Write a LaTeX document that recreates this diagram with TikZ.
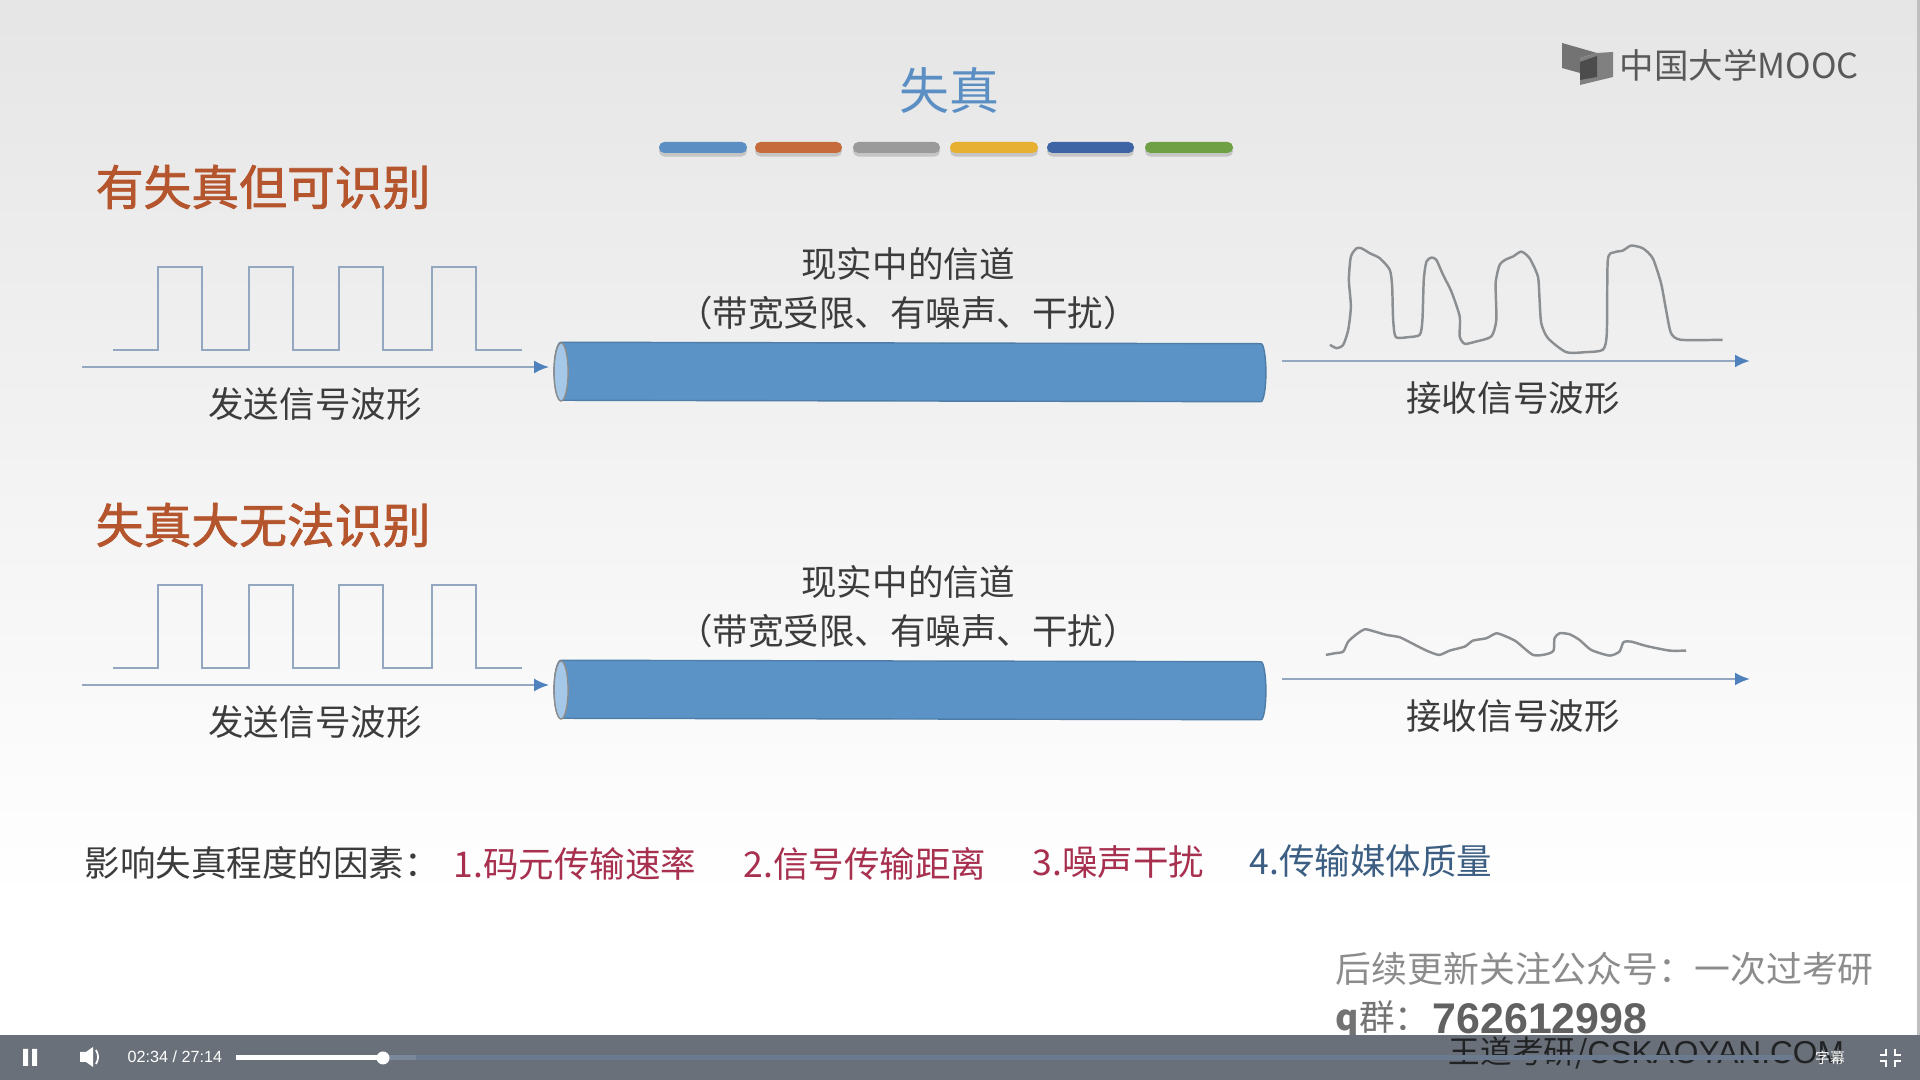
\documentclass[tikz,border=0pt]{standalone}
\usepackage{fontspec}
\setmainfont{Noto Sans CJK SC}
\newfontfamily\latinfont{Liberation Sans}
\newfontfamily\headfont[FakeBold=1.6]{Noto Sans CJK SC}
\usetikzlibrary{arrows.meta,calc,positioning,shadows}
\definecolor{distblue}{HTML}{5B8FC4}
\definecolor{headbrown}{HTML}{B4552D}
\definecolor{inkgrey}{HTML}{3C3C3C}
\definecolor{waveblue}{HTML}{93A8C0}
\definecolor{tipblue}{HTML}{4F81BD}
\definecolor{wavegrey}{HTML}{8C8F92}
\definecolor{pipeblue}{HTML}{5B93C6}
\definecolor{pipelight}{HTML}{A6C8E8}
\definecolor{factorred}{HTML}{A8304F}
\definecolor{factorblue}{HTML}{3B5E82}
\definecolor{barslate}{HTML}{6A7079}
\definecolor{trackblue}{HTML}{6C7A90}
\definecolor{barorange}{HTML}{C56B3C}
\definecolor{bargrey}{HTML}{9A9A9A}
\definecolor{baryellow}{HTML}{E8B030}
\definecolor{bardark}{HTML}{3F64A5}
\definecolor{bargreen}{HTML}{6FA045}
\begin{document}
\begin{tikzpicture}[x=0.01cm,y=-0.01cm,
  ribbon/.style={rounded corners=1.5pt,drop shadow={opacity=.35,shadow xshift=0pt,shadow yshift=-1pt}},
  head/.style={anchor=west,font=\headfont\fontsize{13.6}{16}\selectfont,text=headbrown,inner sep=0pt},
  sigtext/.style={font=\fontsize{10.1}{12}\selectfont,text=inkgrey,inner sep=0pt},
  factor/.style={anchor=west,font=\fontsize{10.1}{12}\selectfont,inner sep=0pt},
  wave/.style={line width=.7pt,waveblue},
  recv/.style={line width=.7pt,wavegrey,line join=round},
  sigline/.style={line width=.7pt,waveblue,-{Latex[length=1.5mm,width=1.3mm,color=tipblue]}},
  pipe/.style={rectangle,minimum width=7.1cm,minimum height=.58cm,inner sep=0pt},
  barlabel/.style={font=\fontsize{4.2}{5}\selectfont,text=white,inner sep=0pt}]
\useasboundingbox (0,0) rectangle (1920,1080);
\fill[white] (0,0) rectangle (1920,1080);
\shade[top color=black!10,bottom color=white] (0,0) rectangle (1920,900);
\fill[black!25] (1917,0) rectangle (1920,1035);
\node[font=\fontsize{14.2}{17}\selectfont,text=distblue,inner sep=0pt] (title) at (949,91) {失真};
\foreach \xa/\xb/\col in {659/747/distblue,755/842/barorange,853/940/bargrey,950/1038/baryellow,1047/1134/bardark,1145/1233/bargreen} {
  \fill[\col,ribbon] (\xa,142) rectangle (\xb,153);
}
% logo
\fill[black!55] (1562,43) -- (1597,53) -- (1580,58) -- (1580,73) -- (1562,68) -- cycle;
\fill[black!50] (1580,58) -- (1597,53) -- (1613,52) -- (1613,77) -- (1580,85) -- cycle;
\fill[black!70] (1580,62) -- (1597,56) -- (1597,77) -- (1580,80) -- cycle;
\node[anchor=west,font=\fontsize{9.8}{12}\selectfont,text=black!65,inner sep=0pt] (logo) at (1619,65) {中国大学MOOC};
% two channels
\foreach \r/\dy/\hy/\name in {A/0/187/有失真但可识别,B/318/525/失真大无法识别} {
  \node[head] (head\r) at (95,\hy) {\name};
  \node[sigtext] (chan\r) at (908,264+\dy) {现实中的信道};
  \node[sigtext] (note\r) at (908,313+\dy) {（带宽受限、有噪声、干扰）};
  \node[pipe] (pipe\r) at (910,372+\dy) {};
  \filldraw[fill=pipeblue,draw=pipeblue!85!black,line width=.4pt] ($(pipe\r.north west)+(7,0)$)
    arc[start angle=-90,end angle=-270,x radius=7,y radius=29] -- ($(pipe\r.south east)+(-5,0)$)
    arc[start angle=90,end angle=-90,x radius=5,y radius=29] -- cycle;
  \filldraw[fill=pipelight,draw=black!45,line width=.4pt] ($(pipe\r.west)+(7,0)$) ellipse (7 and 29);
  \coordinate (from\r) at (82,367+\dy);
  \coordinate (to\r) at (1750,361+\dy);
  \draw[sigline,shorten >=1.4pt] (from\r) -- (from\r-|pipe\r.west);
  \draw[sigline,shorten <=4.5pt] (pipe\r.east|-to\r) -- (to\r);
  \node[sigtext] (send\r) at (315,404+\dy) {发送信号波形};
  \node[sigtext] (recv\r) at (1513,398+\dy) {接收信号波形};
  \draw[wave] (113,350+\dy) -- (158,350+\dy) -- (158,267+\dy) -- (202,267+\dy) -- (202,350+\dy)
    -- (249,350+\dy) -- (249,267+\dy) -- (293,267+\dy) -- (293,350+\dy) -- (339,350+\dy)
    -- (339,267+\dy) -- (383,267+\dy) -- (383,350+\dy) -- (432,350+\dy) -- (432,267+\dy)
    -- (476,267+\dy) -- (476,350+\dy) -- (522,350+\dy);
}
\begin{scope}[shift={(1280,220)},x=0.00333cm,y=-0.00333cm]
\draw[recv] plot[smooth,tension=.4] coordinates {(150,375) (170,385) (190,375) (205,330) (213,260) (207,180) (213,110) (230,85) (245,85) (270,100) (300,115) (330,150) (337,200) (340,300) (348,352) (385,352) (420,345) (428,300) (432,180) (440,125) (455,113) (470,120) (490,165) (515,215) (540,290) (540,350) (555,372) (590,365) (635,350) (650,300) (648,190) (660,135) (680,118) (700,110) (725,95) (750,115) (775,170) (780,240) (785,310) (805,355) (860,397) (920,397) (970,390) (982,340) (985,120) (1005,97) (1030,92) (1055,77) (1090,85) (1120,115) (1145,190) (1160,270) (1175,340) (1205,360) (1330,360)};
\end{scope}
\begin{scope}[shift={(1280,600)},x=0.00333cm,y=-0.00333cm]
\draw[recv] plot[smooth,tension=.4] coordinates {(138,165) (165,160) (190,155) (205,125) (230,103) (255,88) (285,95) (320,105) (360,112) (400,132) (440,152) (478,165) (510,152) (555,140) (580,122) (620,115) (650,100) (680,110) (710,125) (760,165) (800,163) (822,152) (825,115) (840,100) (870,103) (900,120) (935,150) (990,167) (1020,155) (1032,127) (1055,125) (1100,138) (1170,152) (1220,152)};
\end{scope}
% factors
\node[factor,text=inkgrey] (factors) at (84,863) {影响失真程度的因素：};
\node[factor,text=factorred] (rate) at (453,864) {1.码元传输速率};
\node[factor,text=factorred] (dist) at (743,864) {2.信号传输距离};
\node[factor,text=factorred] (noise) at (1032,862) {3.噪声干扰};
\node[factor,text=factorblue] (media) at (1249,861) {4.传输媒体质量};
\node[factor,font=\fontsize{10.2}{12}\selectfont,text=black!45] (notice) at (1335,969) {后续更新关注公众号：一次过考研};
\node[factor,text=black!55] (qq) at (1335,1019) {\bfseries q\mdseries 群：};
\node[anchor=west,font=\latinfont\bfseries\fontsize{12.2}{14}\selectfont,text=black!62,inner sep=0pt] (qqnum) at (1432,1019) {762612998};
% player bar
\fill[barslate] (0,1035) rectangle (1920,1080);
\node[anchor=west,font=\fontsize{9}{10}\selectfont,text=black!70!barslate,inner sep=0pt] (mark) at (1448,1053) {王道考研/\latinfont CSKAOYAN.COM};
\fill[white] (23,1049) rectangle (28,1066) (32,1049) rectangle (37,1066);
\fill[white] (80,1052) -- (86,1052) -- (93,1047) -- (93,1067) -- (86,1062) -- (80,1062) -- cycle;
\draw[white,line width=.5pt] (96,1050) to[bend left=30] (96,1064);
\node[anchor=west,font=\latinfont\fontsize{4.6}{5}\selectfont,text=white,inner sep=0pt] (clock) at (127,1057) {02:34 / 27:14};
\fill[trackblue] (383,1055) rectangle (1793,1060);
\fill[trackblue!90!white] (383,1055) rectangle (416,1060);
\fill[white] (236,1055) rectangle (383,1060);
\fill[white] (383,1058) circle (6.5);
\node[barlabel] (subs) at (1830,1058) {字幕};
\draw[white,line width=.7pt] (1886,1049) -- (1886,1055) -- (1880,1055) (1895,1049) -- (1895,1055) -- (1901,1055)
  (1886,1067) -- (1886,1061) -- (1880,1061) (1895,1067) -- (1895,1061) -- (1901,1061);
\end{tikzpicture}
\end{document}
